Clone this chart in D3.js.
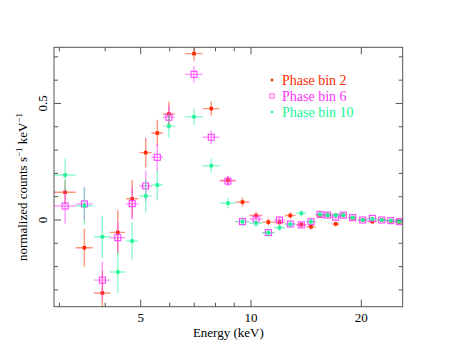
<!DOCTYPE html>
<html>
<head>
<meta charset="utf-8">
<script src="https://cdn.jsdelivr.net/npm/d3@7"></script>
<style>
  body { margin: 0; background: #fff; }
  svg text { font-family: 'Liberation Serif', 'Times New Roman', Times, 'DejaVu Serif', serif; }
</style>
</head>
<body>
<script>
// bin centres and half widths (keV)
const energy = [3.11, 3.51, 3.93, 4.33, 4.74, 5.16, 5.55, 5.97, 6.99, 7.79, 8.65, 9.48, 10.32, 11.15,
  11.96, 12.8, 13.72, 14.58, 15.43, 16.18, 17.03, 17.86, 18.93, 20.18, 21.43, 22.74, 24.06, 25.4];
const energyErr = [0.21, 0.19, 0.2, 0.21, 0.18, 0.2, 0.2, 0.22, 0.39, 0.41, 0.43, 0.41, 0.42, 0.42,
  0.41, 0.42, 0.42, 0.42, 0.41, 0.4, 0.42, 0.44, 0.52, 0.6, 0.64, 0.66, 0.67, 0.68];

const bin2 = [0.119, -0.119, -0.313, -0.053, 0.091, 0.289, 0.373, 0.455, 0.714, 0.478, 0.170, 0.077,
  0.019, -0.009, -0.01, 0.019, -0.02, -0.029, 0.021, 0.021, -0.017, 0.021, 0.009, 0.0, -0.007, 0.0, -0.004, -0.009];
const bin2Err = [0.05, 0.08, 0.095, 0.095, 0.08, 0.063, 0.057, 0.053, 0.033, 0.03, 0.02, 0.018, 0.016, 0.015,
  0.014, 0.014, 0.013, 0.013, 0.012, 0.011, 0.011, 0.01, 0.009, 0.008, 0.008, 0.008, 0.007, 0.007];

const bin6 = [0.060, 0.069, -0.258, -0.076, 0.070, 0.146, 0.269, 0.441, 0.625, 0.355, 0.167, -0.007,
  0.004, -0.054, 0.0, -0.017, -0.021, -0.007, 0.024, 0.021, 0.012, 0.021, 0.01, 0.0, 0.007, 0.0, -0.003, -0.007];
const bin6Err = [0.075, 0.07, 0.08, 0.065, 0.07, 0.065, 0.06, 0.05, 0.035, 0.03, 0.022, 0.018, 0.016, 0.015,
  0.014, 0.014, 0.013, 0.013, 0.012, 0.011, 0.011, 0.01, 0.009, 0.008, 0.008, 0.008, 0.007, 0.007];

const bin10 = [0.193, 0.061, -0.072, -0.223, -0.090, 0.103, 0.150, 0.403, 0.443, 0.233, 0.072, -0.007,
  -0.014, -0.055, -0.033, -0.018, 0.029, -0.007, 0.024, 0.021, 0.021, 0.021, 0.01, 0.0, 0.004, 0.0, -0.003, -0.007];
const bin10Err = [0.07, 0.08, 0.09, 0.09, 0.08, 0.07, 0.065, 0.05, 0.035, 0.03, 0.022, 0.018, 0.016, 0.015,
  0.014, 0.014, 0.013, 0.013, 0.012, 0.011, 0.011, 0.01, 0.009, 0.008, 0.008, 0.008, 0.007, 0.007];

const seriesNames = ['Phase bin 2', 'Phase bin 6', 'Phase bin 10'];
const xTicks = [5, 10, 20];
const xMinor = [3, 4, 6, 7, 8, 9, 30];
const yTicks = [0, 0.5];
const yMinor = [-0.3, -0.2, -0.1, 0.1, 0.2, 0.3, 0.4, 0.6, 0.7];

const W = 458, H = 355;
const m = { l: 54, t: 47.3, r: 55.3, b: 48.3 };
const iw = W - m.l - m.r, ih = H - m.t - m.b;
const serif = "'Liberation Serif', 'Times New Roman', Times, 'DejaVu Serif', serif";

const series = [
  { name: seriesNames[0], y: bin2, err: bin2Err, color: '#ff2a00', mark: 'dot' },
  { name: seriesNames[1], y: bin6, err: bin6Err, color: '#ff33ff', mark: 'box' },
  { name: seriesNames[2], y: bin10, err: bin10Err, color: '#22f59a', mark: 'dot' }
];

const x = d3.scaleLog().domain([2.9, 25.94]).range([0, iw]);
const y = d3.scaleLinear().domain([-0.372, 0.741]).range([ih, 0]);

const svg = d3.select('body').append('svg').attr('width', W).attr('height', H)
  .attr('font-family', serif);
const g = svg.append('g').attr('transform', `translate(${m.l},${m.t})`);

g.append('clipPath').attr('id', 'clip')
  .append('rect').attr('width', iw).attr('height', ih);

// data
const plot = g.append('g').attr('clip-path', 'url(#clip)');
series.forEach(s => {
  const pts = energy.map((e, i) => ({ e: e, de: energyErr[i], v: s.y[i], dv: s.err[i] }));
  const sg = plot.append('g');
  sg.selectAll('line.h').data(pts).enter().append('line')
    .attr('x1', d => x(d.e - d.de)).attr('x2', d => x(d.e + d.de))
    .attr('y1', d => y(d.v)).attr('y2', d => y(d.v))
    .attr('stroke', s.color).attr('stroke-opacity', 0.5).attr('stroke-width', 1.4);
  sg.selectAll('line.v').data(pts).enter().append('line')
    .attr('x1', d => x(d.e)).attr('x2', d => x(d.e))
    .attr('y1', d => y(d.v - d.dv)).attr('y2', d => y(d.v + d.dv))
    .attr('stroke', s.color).attr('stroke-opacity', 0.5).attr('stroke-width', 1.4);
  if (s.mark == 'box') {
    sg.selectAll('rect').data(pts).enter().append('rect')
      .attr('x', d => x(d.e) - 3).attr('y', d => y(d.v) - 3)
      .attr('width', 6).attr('height', 6)
      .attr('fill', 'none').attr('stroke', s.color).attr('stroke-width', 1);
  } else {
    sg.selectAll('rect').data(pts).enter().append('rect')
      .attr('x', d => x(d.e) - 1.8).attr('y', d => y(d.v) - 1.8)
      .attr('width', 3.6).attr('height', 3.6)
      .attr('fill', s.color);
  }
});

// frame and ticks
const ax = '#555';
g.append('rect').attr('width', iw).attr('height', ih)
  .attr('fill', 'none').attr('stroke', ax).attr('stroke-width', 1);

const tk = g.append('g').attr('stroke', ax).attr('stroke-width', 1);
xTicks.concat(xMinor).forEach(t => {
  if (t > x.domain()[1]) return;
  const len = xTicks.includes(t) ? 7 : 4;
  tk.append('line').attr('x1', x(t)).attr('x2', x(t)).attr('y1', ih).attr('y2', ih - len);
  tk.append('line').attr('x1', x(t)).attr('x2', x(t)).attr('y1', 0).attr('y2', len);
});
yTicks.concat(yMinor).forEach(t => {
  const len = yTicks.includes(t) ? 7 : 4;
  tk.append('line').attr('x1', 0).attr('x2', len).attr('y1', y(t)).attr('y2', y(t));
  tk.append('line').attr('x1', iw).attr('x2', iw - len).attr('y1', y(t)).attr('y2', y(t));
});

// tick labels
g.selectAll('text.xt').data(xTicks).enter().append('text')
  .attr('x', d => x(d)).attr('y', ih + 15)
  .attr('text-anchor', 'middle').attr('font-size', 13).text(d => d);
g.selectAll('text.yt').data(yTicks).enter().append('text')
  .attr('transform', d => `translate(-7,${y(d)}) rotate(-90)`)
  .attr('text-anchor', 'middle').attr('font-size', 13)
  .text(d => d == 0 ? '0' : d);

// axis titles
g.append('text').attr('x', iw / 2).attr('y', ih + 30)
  .attr('text-anchor', 'middle').attr('font-size', 13).text('Energy (keV)');
const yl = svg.append('text')
  .attr('transform', 'translate(27,187) rotate(-90)')
  .attr('text-anchor', 'middle').attr('font-size', 13);
yl.append('tspan').text('normalized counts s');
yl.append('tspan').attr('font-size', 9).attr('dy', -5).text('−1');
yl.append('tspan').attr('dy', 5).text(' keV');
yl.append('tspan').attr('font-size', 9).attr('dy', -5).text('−1');

// legend
const lg = svg.append('g').attr('transform', 'translate(272,80)');
series.forEach((s, i) => {
  const r = lg.append('g').attr('transform', `translate(0,${i * 16})`);
  if (s.mark == 'box') {
    r.append('rect').attr('x', -2).attr('y', -2).attr('width', 4).attr('height', 4)
      .attr('fill', 'none').attr('stroke', s.color).attr('stroke-width', 0.8);
  } else {
    r.append('rect').attr('x', -1.2).attr('y', -1.2).attr('width', 2.4).attr('height', 2.4)
      .attr('fill', s.color);
  }
  r.append('text').attr('x', 10).attr('y', 4.5).attr('font-size', 14)
    .attr('fill', s.color).text(s.name);
});
</script>
</body>
</html>
